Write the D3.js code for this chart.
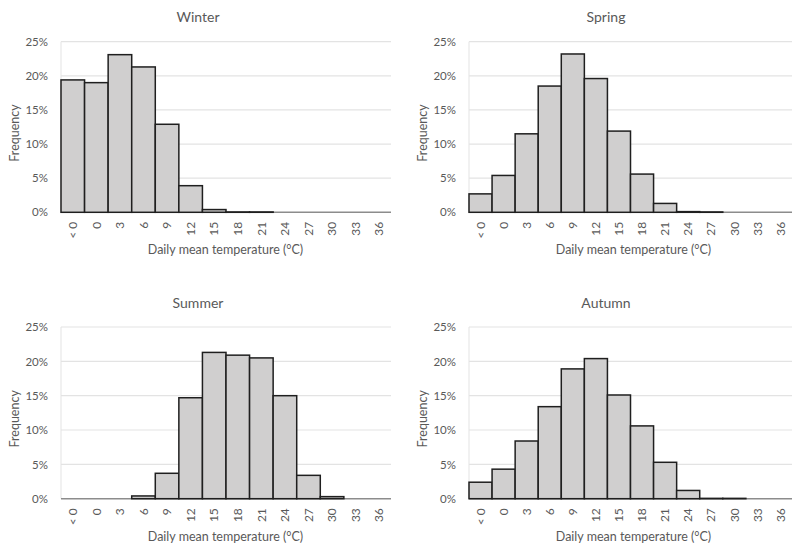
<!DOCTYPE html>
<html>
<head>
<meta charset="utf-8">
<script src="https://cdn.jsdelivr.net/npm/d3@7"></script>
<style>
  html, body { margin: 0; padding: 0; background: #fff; }
  svg { display: block; }
  text { font-family: Lato, "Open Sans", sans-serif; fill: #595959; }
</style>
</head>
<body>
<svg id="chart" width="792" height="544"></svg>
<script>
// ---- data (percent) ----
const categories = ["< 0", "0", "3", "6", "9", "12", "15", "18", "21", "24", "27", "30", "33", "36"];
const winter = [19.4, 19.0, 23.1, 21.3, 12.9, 3.9, 0.4, 0.05, 0.05, 0, 0, 0, 0, 0];
const spring = [2.7, 5.4, 11.5, 18.5, 23.2, 19.6, 11.9, 5.6, 1.3, 0.1, 0.05, 0, 0, 0];
const summer = [0, 0, 0, 0.4, 3.7, 14.7, 21.3, 20.9, 20.5, 15.0, 3.4, 0.3, 0, 0];
const autumn = [2.4, 4.3, 8.4, 13.4, 18.9, 20.4, 15.1, 10.6, 5.3, 1.2, 0.05, 0.05, 0, 0];
const yTicks = [0, 5, 10, 15, 20, 25];
const seasons = ["Winter", "Spring", "Summer", "Autumn"];
const seriesList = [winter, spring, summer, autumn];
const xTitle = "Daily mean temperature (°C)";
const yTitle = "Frequency";

// ---- layout ----
const panels = [
  { left: 61,  top: 41.7, bottom: 212.3, w: 330 },
  { left: 469, top: 41.7, bottom: 212.3, w: 323 },
  { left: 61,  top: 327,  bottom: 498.7, w: 330 },
  { left: 469, top: 327,  bottom: 498.7, w: 323 }
];

const svg = d3.select("#chart");

panels.forEach((p, i) => {
  const data = seriesList[i];
  const plotW = p.w;
  const g = svg.append("g");
  const x = d3.scaleBand().domain(categories).range([p.left, p.left + plotW]).padding(0);
  const y = d3.scaleLinear().domain([0, 25]).range([p.bottom, p.top]);

  // gridlines
  g.selectAll("line.grid").data(yTicks.filter(t => t > 0)).join("line")
    .attr("x1", p.left).attr("x2", p.left + plotW)
    .attr("y1", d => y(d)).attr("y2", d => y(d))
    .attr("stroke", "#e3e3e3").attr("stroke-width", 1.2);
  // left border
  g.append("line")
    .attr("x1", p.left).attr("x2", p.left)
    .attr("y1", y(25)).attr("y2", y(0))
    .attr("stroke", "#e3e3e3").attr("stroke-width", 1);

  // y axis labels
  const ya = g.append("g").attr("transform", `translate(${p.left - 13},0)`)
    .call(d3.axisLeft(y).tickValues(yTicks).tickFormat(d => d + "%").tickSize(0).tickPadding(0));
  ya.select(".domain").remove();
  ya.selectAll("text").style("font-family", "Lato, 'Open Sans', sans-serif")
    .style("font-size", "11.5px").attr("fill", "#595959");

  // baseline
  g.append("line")
    .attr("x1", p.left).attr("x2", p.left + plotW)
    .attr("y1", y(0)).attr("y2", y(0))
    .attr("stroke", "#8c8c8c").attr("stroke-width", 1.5);

  // bars
  const pairs = categories.map((c, k) => ({ c, v: data[k] })).filter(d => d.v > 0);
  g.selectAll("rect.bar").data(pairs).join("rect")
    .attr("x", d => x(d.c))
    .attr("width", x.bandwidth())
    .attr("y", d => y(d.v))
    .attr("height", d => y(0) - y(d.v))
    .attr("fill", "#d0cfcf")
    .attr("stroke", "#1f1f1f")
    .attr("stroke-width", 1.5);

  // x tick labels (rotated)
  const xa = g.append("g").attr("transform", `translate(0,${p.bottom + 9.5})`)
    .call(d3.axisBottom(x).tickSize(0).tickPadding(0));
  xa.select(".domain").remove();
  xa.selectAll("text")
    .style("font-family", "Lato, 'Open Sans', sans-serif")
    .style("font-size", "12px").attr("fill", "#595959")
    .attr("transform", "rotate(-90)")
    .attr("text-anchor", "end")
    .attr("x", 0).attr("y", 0).attr("dy", "0.35em");

  // title
  g.append("text")
    .attr("x", p.left + 137).attr("y", p.top - 19.5)
    .attr("text-anchor", "middle")
    .style("font-size", "14px")
    .text(seasons[i]);

  // x axis title
  g.append("text")
    .attr("x", p.left + 164.5).attr("y", p.bottom + 42)
    .attr("text-anchor", "middle")
    .style("font-size", "12.5px")
    .text(xTitle);

  // y axis title
  g.append("text")
    .attr("transform", `translate(${p.left - 42},${(p.top + p.bottom) / 2 + 6}) rotate(-90)`)
    .attr("text-anchor", "middle")
    .style("font-size", "12.5px")
    .text(yTitle);
});
</script>
</body>
</html>
